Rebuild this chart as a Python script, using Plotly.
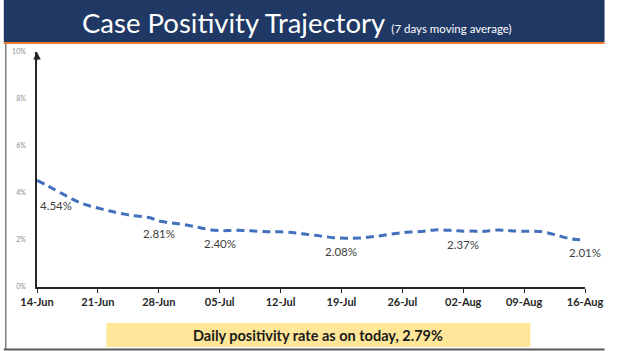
import plotly.graph_objects as go
import pandas as pd

dates = pd.date_range("2020-06-14", "2020-08-16", freq="D").strftime("%Y-%m-%d").tolist()
positivity = [
    4.54, 4.35, 4.15, 3.95, 3.75, 3.58, 3.46,   # Jun 14-20
    3.36, 3.27, 3.18, 3.10, 3.04, 3.00, 2.95,   # Jun 21-27
    2.81, 2.75, 2.70, 2.65, 2.58, 2.50, 2.43,   # Jun 28 - Jul 4
    2.40, 2.40, 2.41, 2.40, 2.38, 2.36, 2.35,   # Jul 5-11
    2.35, 2.33, 2.29, 2.24, 2.20, 2.15, 2.10,   # Jul 12-18
    2.08, 2.07, 2.08, 2.12, 2.16, 2.21, 2.27,   # Jul 19-25
    2.31, 2.34, 2.36, 2.40, 2.44, 2.42, 2.40,   # Jul 26 - Aug 1
    2.37, 2.38, 2.36, 2.39, 2.43, 2.41, 2.38,   # Aug 2-8
    2.37, 2.37, 2.36, 2.28, 2.18, 2.08, 2.02,   # Aug 9-15
    2.01,                                       # Aug 16
]
label_dates = ["2020-06-14", "2020-06-28", "2020-07-05", "2020-07-19", "2020-08-02", "2020-08-16"]
label_texts = ["4.54%", "2.81%", "2.40%", "2.08%", "2.37%", "2.01%"]
tick_dates = ["2020-06-14", "2020-06-21", "2020-06-28", "2020-07-05", "2020-07-12", "2020-07-19",
              "2020-07-26", "2020-08-02", "2020-08-09", "2020-08-16"]
tick_labels = ["14-Jun", "21-Jun", "28-Jun", "05-Jul", "12-Jul", "19-Jul", "26-Jul", "02-Aug", "09-Aug", "16-Aug"]
y_ticks = [0, 2, 4, 6, 8, 10]
y_tick_labels = ["0%", "2%", "4%", "6%", "8%", "10%"]
title = "Case Positivity Trajectory"
subtitle = "(7 days moving average)"
footer = "Daily positivity rate as on today, 2.79%"

W, H = 615, 351
L, R, T, B = 34, 20, 52, 64
PW, PH = W - L - R, H - T - B

def px_x(p):
    return (p - L) / PW

def px_y(p):
    return (H - B - p) / PH

fig = go.Figure()
fig.add_trace(go.Scatter(
    x=dates, y=positivity, mode="lines",
    line=dict(color="#4270BC", width=3, dash="8px,5px", shape="spline", smoothing=0.6),
    hoverinfo="skip", showlegend=False,
))

val = dict(zip(dates, positivity))
for d, t in zip(label_dates, label_texts):
    first = d == label_dates[0]
    fig.add_annotation(x=d, y=val[d], text=t, showarrow=False,
                       xanchor="left" if first else "center",
                       xshift=1 if first else 0,
                       yshift=-25 if first else -13,
                       font=dict(family="Lato, sans-serif", size=11.5, color="#404040"))

fig.update_layout(
    width=W, height=H, autosize=False,
    margin=dict(l=L, r=R, t=T, b=B),
    paper_bgcolor="white", plot_bgcolor="white",
    xaxis=dict(range=["2020-06-14", "2020-08-16"], tickmode="array", tickvals=tick_dates,
               ticktext=tick_labels, showgrid=False, zeroline=False,
               showline=True, linecolor="#262626", linewidth=1.5,
               ticks="outside", ticklen=4, tickcolor="#262626", ticklabeloverflow="allow",
               tickfont=dict(family="Lato, sans-serif", size=11, color="#262626", weight="bold")),
    yaxis=dict(range=[0, 10], tickmode="array", tickvals=y_ticks, ticktext=y_tick_labels,
               showgrid=False, zeroline=False, showline=True, linecolor="#262626", linewidth=1.5,
               ticks="", ticklabelstandoff=8,
               tickfont=dict(family="Lato, sans-serif", size=7, color="#8c8c8c")),
    font=dict(family="Lato, sans-serif"),
)

# Title banner
fig.add_shape(type="rect", xref="paper", yref="paper", x0=px_x(0), x1=px_x(W),
              y0=px_y(42), y1=px_y(0), fillcolor="#1F3864", line_width=0, layer="below")
fig.add_shape(type="line", xref="paper", yref="paper", x0=px_x(0), x1=px_x(W),
              y0=px_y(43), y1=px_y(43), line=dict(color="#ED7D31", width=2))
fig.add_annotation(xref="paper", yref="paper", x=px_x(300), y=px_y(22),
                   text=f"<span style='font-size:27.5px'>{title}</span>  <span style='font-size:11.5px'>{subtitle}</span>",
                   showarrow=False, font=dict(family="Lato, sans-serif", color="white"),
                   xanchor="center", yanchor="middle")
# Left / bottom frame
fig.add_shape(type="line", xref="paper", yref="paper", x0=px_x(2), x1=px_x(2),
              y0=px_y(350), y1=px_y(44), line=dict(color="#7f7f7f", width=1.5))
fig.add_shape(type="line", xref="paper", yref="paper", x0=px_x(0), x1=px_x(W),
              y0=px_y(349.5), y1=px_y(349.5), line=dict(color="#595959", width=2))
# Y axis arrow head
fig.add_annotation(x="2020-06-14", y=10, ax="2020-06-14", ay=9.6, xref="x", yref="y", axref="x", ayref="y",
                   showarrow=True, arrowhead=2, arrowsize=1, arrowwidth=1.5, arrowcolor="#262626", text="")
# Footer box
fig.add_shape(type="rect", xref="paper", yref="paper", x0=px_x(105), x1=px_x(539),
              y0=px_y(347), y1=px_y(323), fillcolor="#FFE699", line_width=0)
fig.add_annotation(xref="paper", yref="paper", x=px_x(322), y=px_y(335),
                   text=f"<b>{footer}</b>", showarrow=False, xanchor="center", yanchor="middle",
                   font=dict(family="Lato, sans-serif", size=14.5, color="#1a1a1a"))

fig.write_html("out.html")
